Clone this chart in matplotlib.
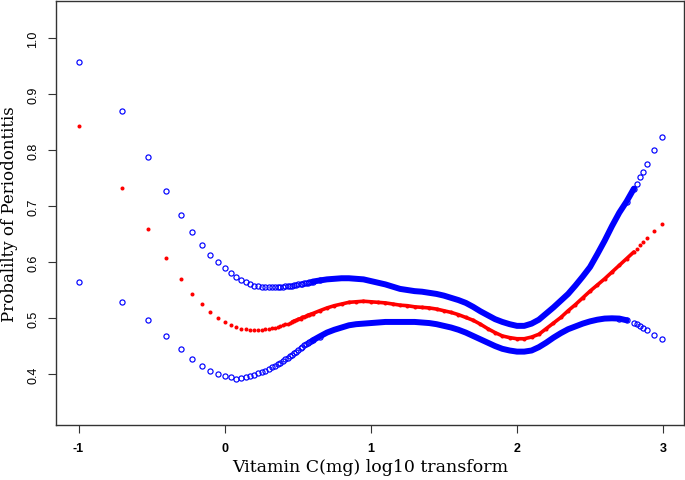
import matplotlib.pyplot as plt
import numpy as np

# log10 vitamin C intake: sparse head (0.1 mg steps), dense middle, sparse tail
x_head = [-1.0, -0.699, -0.523, -0.398, -0.301, -0.222, -0.155, -0.097, -0.046, 0.0,
          0.041, 0.079, 0.114, 0.146, 0.176, 0.204, 0.230, 0.255, 0.279, 0.301,
          0.322, 0.342, 0.362, 0.380, 0.398, 0.415, 0.431, 0.447, 0.462, 0.477,
          0.491, 0.505, 0.519, 0.531, 0.544, 0.556, 0.568, 0.580, 0.591, 0.602]
x_mid = [0.65, 0.70, 0.75, 0.80,
         0.85, 0.90, 0.95, 1.00, 1.05, 1.10, 1.15, 1.20, 1.25, 1.30,
         1.35, 1.40, 1.45, 1.50, 1.55, 1.60, 1.65, 1.70, 1.75, 1.80,
         1.85, 1.90, 1.95, 2.00, 2.05, 2.10, 2.15, 2.20, 2.25, 2.30,
         2.35, 2.40, 2.45, 2.50, 2.55, 2.60, 2.65, 2.70, 2.75, 2.80]
x_tail = [2.82, 2.84, 2.86, 2.89, 2.94, 2.99]

# upper confidence limit
upper_head = [0.957, 0.869, 0.787, 0.727, 0.684, 0.654, 0.631, 0.613, 0.600, 0.590,
              0.581, 0.574, 0.568, 0.564, 0.561, 0.558, 0.557, 0.556, 0.555, 0.555,
              0.555, 0.555, 0.555, 0.556, 0.556, 0.557, 0.557, 0.558, 0.558, 0.559,
              0.559, 0.560, 0.561, 0.561, 0.562, 0.562, 0.563, 0.564, 0.564, 0.565]
upper_mid = [0.567, 0.569, 0.570, 0.571,
             0.571, 0.570, 0.569, 0.566, 0.563, 0.560, 0.556, 0.552, 0.550, 0.548,
             0.547, 0.545, 0.543, 0.540, 0.536, 0.532, 0.527, 0.520, 0.512, 0.505,
             0.498, 0.493, 0.489, 0.486, 0.486, 0.490, 0.497, 0.508, 0.519, 0.531,
             0.543, 0.558, 0.574, 0.591, 0.614, 0.638, 0.664, 0.688, 0.708, 0.731]
upper_tail = [0.740, 0.751, 0.761, 0.775, 0.800, 0.823]

# fitted probability
fit_head = [0.843, 0.733, 0.659, 0.607, 0.570, 0.543, 0.525, 0.511, 0.500, 0.493,
            0.488, 0.484, 0.481, 0.480, 0.479, 0.479, 0.479, 0.479, 0.480, 0.480,
            0.482, 0.483, 0.484, 0.486, 0.487, 0.489, 0.490, 0.492, 0.493, 0.495,
            0.496, 0.498, 0.499, 0.501, 0.502, 0.503, 0.505, 0.506, 0.507, 0.508]
fit_mid = [0.513, 0.518, 0.522, 0.525,
           0.528, 0.529, 0.530, 0.529, 0.528, 0.527, 0.525, 0.523, 0.522, 0.520,
           0.519, 0.518, 0.516, 0.513, 0.510, 0.506, 0.501, 0.496, 0.489, 0.481,
           0.474, 0.468, 0.465, 0.463, 0.463, 0.466, 0.471, 0.481, 0.491, 0.501,
           0.513, 0.524, 0.536, 0.548, 0.559, 0.570, 0.582, 0.594, 0.606, 0.618]
fit_tail = [0.624, 0.630, 0.636, 0.643, 0.655, 0.667]

# lower confidence limit
lower_head = [0.565, 0.529, 0.497, 0.468, 0.444, 0.426, 0.414, 0.405, 0.3995, 0.396,
              0.394, 0.392, 0.393, 0.395, 0.397, 0.399, 0.401, 0.403, 0.406, 0.409,
              0.412, 0.415, 0.418, 0.420, 0.423, 0.426, 0.429, 0.432, 0.434, 0.437,
              0.440, 0.443, 0.446, 0.448, 0.451, 0.453, 0.455, 0.457, 0.459, 0.460]
lower_mid = [0.467, 0.474, 0.479, 0.483,
             0.487, 0.489, 0.490, 0.491, 0.492, 0.493, 0.493, 0.493, 0.493, 0.493,
             0.492, 0.491, 0.489, 0.486, 0.483, 0.479, 0.474, 0.468, 0.462, 0.456,
             0.450, 0.445, 0.442, 0.440, 0.440, 0.442, 0.448, 0.456, 0.465, 0.473,
             0.480, 0.485, 0.490, 0.494, 0.497, 0.499, 0.4995, 0.499, 0.496, 0.491]
lower_tail = [0.489, 0.486, 0.483, 0.479, 0.470, 0.4625]

x_all = np.array(x_head + x_mid + x_tail)
upper = np.array(upper_head + upper_mid + upper_tail)
fit = np.array(fit_head + fit_mid + fit_tail)
lower = np.array(lower_head + lower_mid + lower_tail)

fig = plt.figure(figsize=(6.85, 4.81), dpi=100)
ax = fig.add_axes([56 / 685, 55 / 481, 628 / 685, 424 / 481])

# confidence limits: open blue circles, merging into a solid band where dense
for y, lo, hi in [(upper, 0.6, 2.80), (lower, 0.6, 2.75)]:
    band = (x_all >= lo) & (x_all <= hi)
    ax.plot(x_all[band], y[band], color='blue', lw=4.3, solid_capstyle='round')
    pts = (x_all <= lo + 0.05) | (x_all >= hi - 0.05)
    ax.plot(x_all[pts], y[pts], 'o', mfc='none', mec='blue', ms=3.7, mew=0.85)

# fitted curve: small red dots
band = (x_all >= 0.45) & (x_all <= 2.80)
ax.plot(x_all[band], fit[band], color='red', lw=2.6, solid_capstyle='round')
ax.plot(x_all, fit, 'o', color='red', ms=2.9, mew=0)

ax.set_xlim(-1.154, 3.143)
ax.set_ylim(0.309, 1.066)
ax.set_xticks([-1, 0, 1, 2, 3])
ax.set_xticklabels(['-1', '0', '1', '2', '3'], fontweight='bold',
                   fontfamily='Liberation Sans', fontsize=9)
ax.set_yticks([0.4, 0.5, 0.6, 0.7, 0.8, 0.9, 1.0])
ax.set_yticklabels(['0.4', '0.5', '0.6', '0.7', '0.8', '0.9', '1.0'],
                   fontfamily='Liberation Sans', fontsize=9,
                   rotation=90, va='center')
ax.tick_params(length=6, width=0.8, color='#333333', pad=6)
for s in ax.spines.values():
    s.set_color('#333333')
    s.set_linewidth(1.0)

ax.set_xlabel('Vitamin C(mg) log10 transform', fontfamily='DejaVu Serif',
              fontsize=12.5, labelpad=3)
ax.set_ylabel('Probalilty of Periodontitis', fontfamily='DejaVu Serif',
              fontsize=12, labelpad=7)

plt.savefig('out.png', dpi=100)
